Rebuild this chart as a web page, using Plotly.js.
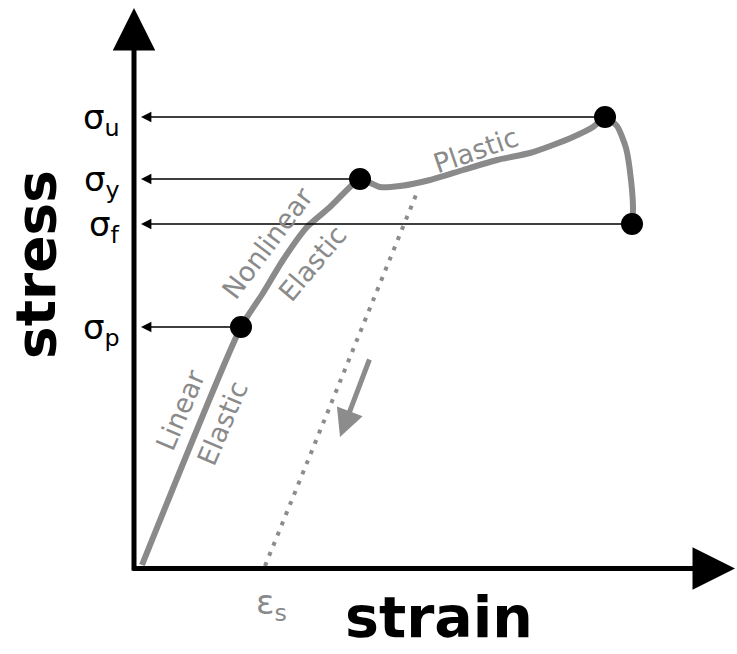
<!DOCTYPE html>
<html>
<head>
<meta charset="utf-8">
<script src="https://cdn.plot.ly/plotly-3.0.1.min.js"></script>
<style>html,body{margin:0;padding:0;background:#fff;}#chart{width:737px;height:654px;}</style>
</head>
<body>
<div id="chart"></div>
<script>
// Stress–strain curve (schematic units)
const curveStrain = [0.08, 1.07, 1.29, 1.49, 1.73, 1.96, 2.16, 2.26, 2.46, 2.66, 2.96, 3.29, 3.63, 3.96, 4.19, 4.39, 4.59, 4.71, 4.83, 4.92, 4.97, 4.99, 4.98];
const curveStress = [0.03, 2.41, 2.75, 3.08, 3.41, 3.61, 3.81, 3.89, 3.81, 3.82, 3.88, 3.98, 4.08, 4.15, 4.23, 4.31, 4.41, 4.51, 4.42, 4.20, 3.88, 3.60, 3.44];

// Key points
const pointNames  = ['σ<sub>p</sub>', 'σ<sub>y</sub>', 'σ<sub>u</sub>', 'σ<sub>f</sub>'];
const pointStrain = [1.07, 2.26, 4.71, 4.98];
const pointStress = [2.41, 3.89, 4.51, 3.44];

// Unloading line (dotted) and residual strain
const unloadStrain = [1.31, 2.84];
const unloadStress = [0.02, 3.78];
const residualLabel = 'ε<sub>s</sub>';

// Region labels
const regionNames  = ['Linear', 'Elastic', 'Nonlinear', 'Elastic', 'Plastic'];
const regionStrain = [0.46, 0.88, 1.33, 1.78, 3.41];
const regionStress = [1.58, 1.45, 3.25, 3.05, 4.18];
const regionAngle  = [-67, -67, -53, -50, -19];

const xTitle = 'strain';
const yTitle = 'stress';

const FONT = 'DejaVu Sans, sans-serif';
const GRAY = '#8a8a8a';

const traces = [
  {x: unloadStrain, y: unloadStress, mode: 'lines', hoverinfo: 'skip',
   line: {color: '#8c8c8c', width: 4, dash: '4px,7px'}},
  {x: curveStrain, y: curveStress, mode: 'lines', hoverinfo: 'skip',
   line: {color: GRAY, width: 6, shape: 'spline', smoothing: 0.6}},
  {x: pointStrain, y: pointStress, mode: 'markers', hoverinfo: 'skip',
   marker: {color: '#000', size: 22}}
];

const ann = [];
// axes as arrows
ann.push({x: 0, y: 5.60, ax: 0, ay: -0.04, xref: 'x', yref: 'y', axref: 'x', ayref: 'y',
  text: '', showarrow: true, arrowhead: 2, arrowwidth: 5, arrowsize: 1.7, arrowcolor: '#000'});
ann.push({x: 6.01, y: -0.005, ax: -0.03, ay: -0.005, xref: 'x', yref: 'y', axref: 'x', ayref: 'y',
  text: '', showarrow: true, arrowhead: 2, arrowwidth: 5, arrowsize: 1.7, arrowcolor: '#000'});
// level arrows from points to stress axis
for (let i = 0; i < pointStrain.length; i++) {
  ann.push({x: 0.07, y: pointStress[i], ax: pointStrain[i], ay: pointStress[i],
    xref: 'x', yref: 'y', axref: 'x', ayref: 'y', text: '', showarrow: true,
    arrowhead: 2, arrowwidth: 1.6, arrowsize: 1.3, arrowcolor: '#000'});
  ann.push({x: -0.12, y: pointStress[i] - 0.02, xref: 'x', yref: 'y', xanchor: 'right', yanchor: 'middle',
    text: pointNames[i], showarrow: false, font: {family: FONT, size: 34, color: '#000'}});
}
// unloading direction arrow
ann.push({x: 2.06, y: 1.31, ax: 2.36, ay: 2.10, xref: 'x', yref: 'y', axref: 'x', ayref: 'y',
  text: '', showarrow: true, arrowhead: 2, arrowwidth: 5, arrowsize: 1.1, arrowcolor: '#8c8c8c'});
// region labels
for (let i = 0; i < regionNames.length; i++) {
  ann.push({x: regionStrain[i], y: regionStress[i], xref: 'x', yref: 'y', text: regionNames[i],
    textangle: regionAngle[i], showarrow: false, font: {family: FONT, size: 27, color: GRAY}});
}
// residual strain label
ann.push({x: 1.37, y: -0.36, xref: 'x', yref: 'y', text: residualLabel, showarrow: false,
  font: {family: FONT, size: 34, color: GRAY}});
// axis titles
ann.push({x: 3.05, y: -0.49, xref: 'x', yref: 'y', text: xTitle, showarrow: false,
  font: {family: FONT, size: 57, color: '#000', weight: 'bold'}});
ann.push({x: -0.98, y: 3.03, xref: 'x', yref: 'y', text: yTitle, textangle: -90, showarrow: false,
  font: {family: FONT, size: 55, color: '#000', weight: 'bold'}});

const layout = {
  width: 737, height: 654,
  margin: {l: 0, r: 0, t: 0, b: 0},
  paper_bgcolor: '#fff', plot_bgcolor: '#fff',
  showlegend: false,
  xaxis: {range: [-1.34, 6.03], visible: false, fixedrange: true},
  yaxis: {range: [-0.86, 5.68], visible: false, fixedrange: true},
  annotations: ann
};

Plotly.newPlot('chart', traces, layout, {displayModeBar: false, staticPlot: true});
</script>
</body>
</html>
